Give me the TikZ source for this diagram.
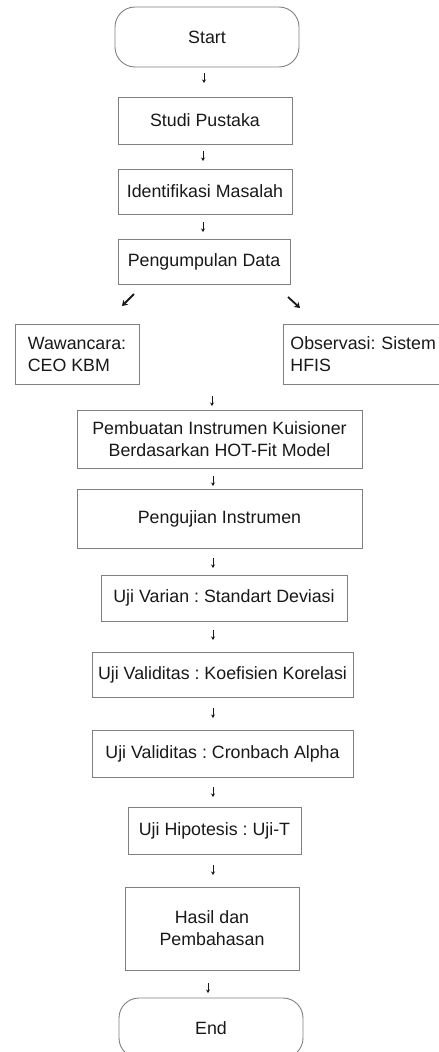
\documentclass[tikz,border=0pt]{standalone}
\usepackage{fontspec}
\setmainfont{Liberation Sans}
\usetikzlibrary{arrows.meta,calc}
\begin{document}
\frenchspacing
\begin{tikzpicture}[x=1pt,y=-1pt,
  box/.style={draw=black!50, line width=0.9pt, text=black!90,
    font=\fontsize{17.8}{22}\selectfont\frenchspacing, inner sep=0pt, align=center},
  term/.style={box, rounded corners=20pt},
  darr/.style={draw=black!90, line width=0.7pt, -{Stealth[length=3.5pt,width=4pt]}},
  diarr/.style={draw=black!90, line width=1.8pt, -{Stealth[length=5.5pt,width=7pt]}}]
\useasboundingbox[fill=white] (0,0) rectangle (439,1052);

\node[term, minimum width=184pt, minimum height=60pt] (start) at (207,37) {Start};
\node[box, minimum width=174pt, minimum height=47pt] (studi) at (205,120.5) {Studi Pustaka};
\node[box, minimum width=174pt, minimum height=45pt] (ident) at (205,191.5) {Identifikasi Masalah};
\node[box, minimum width=172pt, minimum height=45pt] (peng) at (204,261.5) {Pengumpulan Data};
\node[box, minimum width=124pt, minimum height=60pt, align=left] (waw) at (77,354) {Wawancara:\\CEO KBM};
\node[box, anchor=west, minimum height=60pt, inner xsep=7pt, text width=165pt, align=left] (obs) at (283,354) {Observasi: Sistem\\HFIS};
\node[box, minimum width=285pt, minimum height=58pt] (pemb) at (219.5,439) {Pembuatan Instrumen Kuisioner\\Berdasarkan HOT-Fit Model};
\node[box, minimum width=285pt, minimum height=59pt] (pengu) at (219.5,518.5) {Pengujian Instrumen};
\node[box, minimum width=246pt, minimum height=46pt] (varian) at (224,598) {Uji Varian : Standart Deviasi};
\node[box, minimum width=261pt, minimum height=45pt] (koef) at (222.5,674.5) {Uji Validitas : Koefisien Korelasi};
\node[box, minimum width=261pt, minimum height=47pt] (cron) at (222.5,753.5) {Uji Validitas : Cronbach Alpha};
\node[box, minimum width=173pt, minimum height=47pt] (hip) at (214.5,830.5) {Uji Hipotesis : Uji-T};
\node[box, minimum width=174pt, minimum height=83pt] (hasil) at (212,928.5) {Hasil dan\\Pembahasan};
\node[term, minimum width=184pt, minimum height=60pt] (end) at (211,1028) {End};

\foreach \x/\y [count=\i] in {204/78, 203/156, 203/227, 212/401, 213/481, 213/563,
    213/635, 213/713, 213/792, 213/870, 208/988} {
  \coordinate (v\i s) at (\x,\y-5);
  \coordinate (v\i e) at (\x,\y+5);
  \draw[darr] (v\i s) -- (v\i e);
}

\coordinate (d1s) at (134,294);
\coordinate (d1e) at (122,306);
\draw[diarr] (d1s) -- (d1e);
\coordinate (d2s) at (288,297);
\coordinate (d2e) at (300,308);
\draw[diarr] (d2s) -- (d2e);
\end{tikzpicture}
\end{document}
